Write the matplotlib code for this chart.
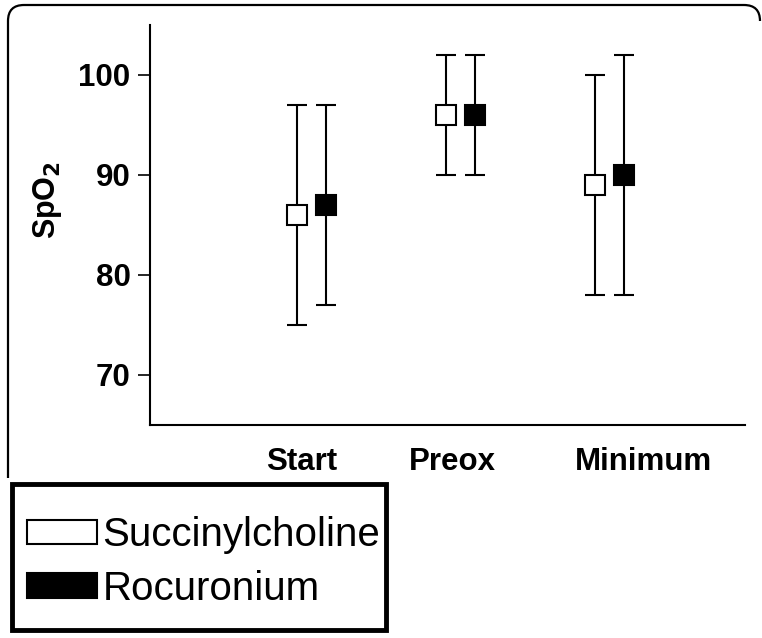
import numpy as np
import matplotlib.pyplot as plt
from matplotlib.patches import Patch, PathPatch, Rectangle
from matplotlib.path import Path

plt.rcParams['font.family'] = ['Liberation Sans', 'DejaVu Sans']

# SpO2 at three time points, median with range
phases = ['Start', 'Preox', 'Minimum']
groups = ['Succinylcholine', 'Rocuronium']

succ_mid = [86, 96, 89]
succ_lo = [75, 90, 78]
succ_hi = [97, 102, 100]

roc_mid = [87, 96, 90]
roc_lo = [77, 90, 78]
roc_hi = [97, 102, 102]

W, H = 762, 638
fig = plt.figure(figsize=(W / 100, H / 100), dpi=100)

# outer frame, rounded at the top, open at the bottom
r = 16
verts = [(8, 478), (8, 5 + r), (8, 5), (8 + r, 5), (W - 2 - r, 5), (W - 2, 5), (W - 2, 5 + r)]
codes = [Path.MOVETO, Path.LINETO, Path.CURVE3, Path.CURVE3, Path.LINETO, Path.CURVE3, Path.CURVE3]
verts = [(x / W, 1 - y / H) for x, y in verts]
fig.patches.append(PathPatch(Path(verts, codes), transform=fig.transFigure,
                             fill=False, lw=1.6, edgecolor='black'))

ax = fig.add_axes([150 / W, 1 - 425 / H, 595 / W, 400 / H])

x = np.arange(1, len(phases) + 1)
off = 0.1

kw = dict(fmt='s', color='black', ecolor='black', elinewidth=1.5, capsize=7.5,
          capthick=1.5, markersize=14, markeredgewidth=1.5, markeredgecolor='black')

ax.errorbar(x - off, succ_mid,
            yerr=[np.subtract(succ_mid, succ_lo), np.subtract(succ_hi, succ_mid)],
            markerfacecolor='white', zorder=3, **kw)
ax.errorbar(x + off, roc_mid,
            yerr=[np.subtract(roc_mid, roc_lo), np.subtract(roc_hi, roc_mid)],
            markerfacecolor='black', zorder=3, **kw)

ax.set_xlim(-0.084, 3.909)
ax.set_ylim(65, 105)
ax.set_yticks([70, 80, 90, 100])
ax.set_xticks([0.933, 1.946, 3.225])
ax.set_xticklabels(phases)

for s in ['top', 'right']:
    ax.spines[s].set_visible(False)
for s in ['left', 'bottom']:
    ax.spines[s].set_linewidth(1.5)

ax.tick_params(axis='y', length=9, width=1.2, pad=5, labelsize=22.5)
ax.tick_params(axis='x', length=0, pad=16, labelsize=22.5)
for lab in ax.get_xticklabels() + ax.get_yticklabels():
    lab.set_fontweight('bold')

ax.set_ylabel('SpO$_\\mathbf{2}$', fontsize=22, fontweight='bold')
ax.yaxis.set_label_coords(-0.145, 0.5625)

# legend box drawn on its own, entries placed inside it
fig.patches.append(Rectangle((12 / W, 1 - 630 / H), 374 / W, 146 / H,
                             transform=fig.transFigure, fill=False,
                             lw=3.5, edgecolor='black', joinstyle='miter'))

handles = [Patch(facecolor='white', edgecolor='black', linewidth=1.5),
           Patch(facecolor='black', edgecolor='black', linewidth=1.5)]
fig.legend(handles, groups, loc='center left',
           bbox_to_anchor=(27 / W, 1 - 562 / H),
           fontsize=29, frameon=False, handlelength=1.75, handleheight=0.55,
           handletextpad=0.12, labelspacing=0.38, borderpad=0, borderaxespad=0)

plt.savefig('out.png', dpi=100)
